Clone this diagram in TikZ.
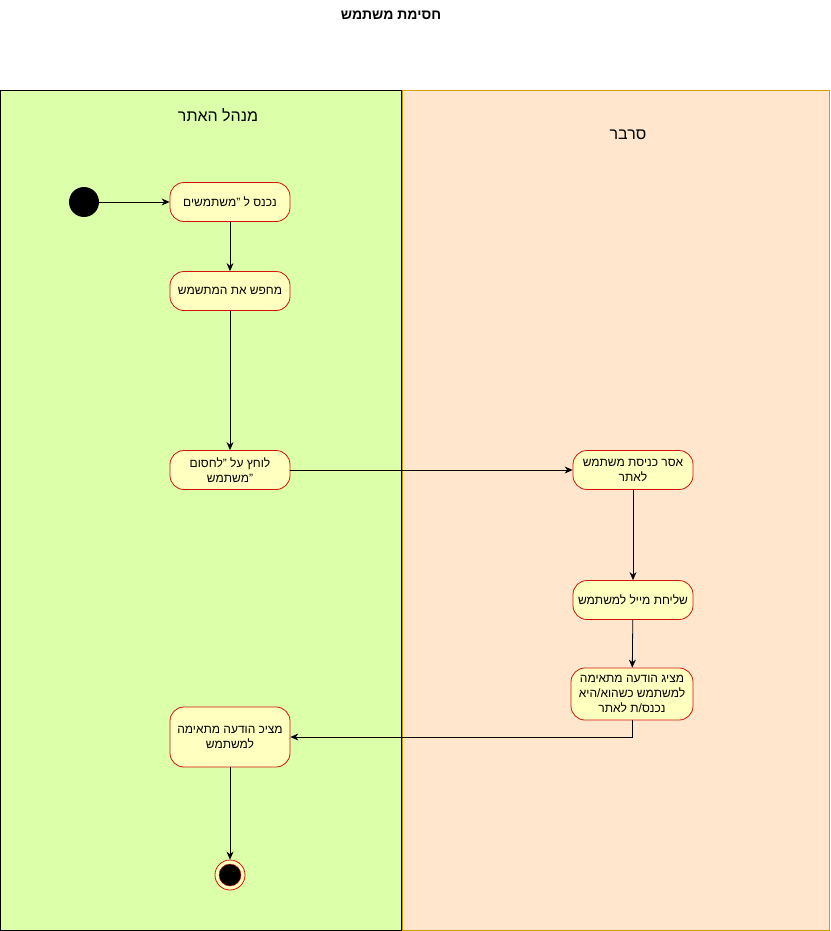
\documentclass[tikz,border=0pt]{standalone}
\usepackage{fontspec}
\setmainfont[Script=Hebrew]{Liberation Sans}
\TeXXeTstate=1
\usetikzlibrary{arrows.meta}
\newcommand{\hebline}[1]{\beginR #1\endR}
\definecolor{lanegreen}{RGB}{220,255,170}
\definecolor{lanepeach}{RGB}{255,230,204}
\definecolor{laneedge}{RGB}{215,155,0}
\definecolor{actfill}{RGB}{255,255,192}
\definecolor{actedge}{RGB}{210,20,10}
\begin{document}
\begin{tikzpicture}[x=1pt,y=-1pt]
    \tikzstyle{lane}=[draw,line width=0.8pt]
    \tikzstyle{lanetitle}=[font=\fontsize{16}{19}\selectfont]
    \tikzstyle{act}=[rectangle,rounded corners=14pt,draw=actedge,fill=actfill,line width=0.8pt,minimum width=120pt,minimum height=39pt,align=center,inner sep=2pt,font=\fontsize{12}{15}\selectfont]
    \tikzstyle{initial}=[circle,fill=black,minimum size=30pt,inner sep=0pt]
    \tikzstyle{flow}=[line width=0.8pt,-{Stealth[length=8pt,width=7pt]}]
    \useasboundingbox (0,0) rectangle (830,931);
    \path [lane,fill=lanegreen,draw=black] (0.5,90) rectangle (401,930);
    \path [lane,fill=lanepeach,draw=laneedge] (402,90) rectangle (829.5,930);
    \node (title) at (391,15) {\fontsize{14}{17}\selectfont\bfseries\hebline{חסימת משתמש}};
    \node (admin)  at (218,115) [lanetitle] {\hebline{מנהל האתר}};
    \node (server) at (628,135) [lanetitle] {\hebline{סרבר}};
    \node (start) at (84,202) [initial] {};
    \node (users)  at (230,202) [act] {\hebline{נכנס ל "משתמשים}};
    \node (search) at (230,291) [act] {\hebline{מחפש את המתשמש}};
    \node (block)  at (230,470) [act] {\hebline{לוחץ על "לחסום}\\\hebline{"משתמש}};
    \node (deny)   at (633,470) [act] {\hebline{אסר כניסת משתמש}\\\hebline{לאתר}};
    \node (mail)   at (633,600) [act] {\hebline{שליחת מייל למשתמש}};
    \node (notify) at (632,694) [act,minimum width=122pt,minimum height=52pt] {\hebline{מציג הודעה מתאימה}\\\hebline{למשתמש כשהוא/היא}\\\hebline{נכנס/ת לאתר}};
    \node (shown)  at (230,737) [act,minimum height=60pt] {\hebline{מציכ הודעה מתאימה}\\\hebline{למשתמש}};
    \node (final) at (230,875) [circle,draw=actedge,fill=actfill,line width=0.8pt,minimum size=30pt,inner sep=0pt] {};
    \node (finaldot) at (final) [circle,draw=actedge,fill=black,minimum size=22pt,inner sep=0pt] {};
    \draw [flow] (start) -- (users);
    \draw [flow] (users) -- (search);
    \draw [flow] (search) -- (block);
    \draw [flow] (block) -- (deny);
    \draw [flow] (deny) -- (mail);
    \draw [flow] (mail) -- (notify);
    \draw [flow] (notify.south) |- (shown.east);
    \draw [flow] (shown) -- (final);
\end{tikzpicture}
\end{document}
